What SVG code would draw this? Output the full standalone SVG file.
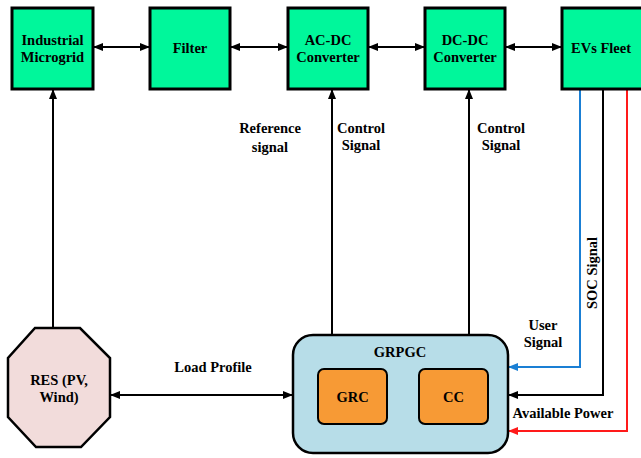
<svg xmlns="http://www.w3.org/2000/svg" width="641" height="458" viewBox="0 0 641 458">
<defs>
<marker id="ah" viewBox="0 0 10 8" refX="10" refY="4" markerWidth="10" markerHeight="8" markerUnits="userSpaceOnUse" orient="auto-start-reverse"><path d="M0,0 L10,4 L0,8 Z" fill="#000"/></marker>
<marker id="ahb" viewBox="0 0 10 8" refX="10" refY="4" markerWidth="10" markerHeight="8" markerUnits="userSpaceOnUse" orient="auto"><path d="M0,0 L10,4 L0,8 Z" fill="#1a7fd4"/></marker>
<marker id="ahr" viewBox="0 0 10 8" refX="10" refY="4" markerWidth="10" markerHeight="8" markerUnits="userSpaceOnUse" orient="auto"><path d="M0,0 L10,4 L0,8 Z" fill="#ff1a1a"/></marker>
<style>
.box{fill:#00f79b;stroke:#000;stroke-width:3}
.t{font-family:"Liberation Serif","Times New Roman",serif;font-weight:bold;font-size:14.5px;fill:#000;text-anchor:middle}
.c{fill:none;stroke:#000;stroke-width:2}
</style>
</defs>
<rect width="641" height="458" fill="#fff"/>
<g id="connectors">
<line class="c" x1="93" y1="47" x2="150" y2="47" marker-start="url(#ah)" marker-end="url(#ah)"/>
<line class="c" x1="230" y1="47" x2="288" y2="47" marker-start="url(#ah)" marker-end="url(#ah)"/>
<line class="c" x1="368" y1="47" x2="425" y2="47" marker-start="url(#ah)" marker-end="url(#ah)"/>
<line class="c" x1="505" y1="47" x2="562" y2="47" marker-start="url(#ah)" marker-end="url(#ah)"/>
<line class="c" x1="53" y1="328" x2="53" y2="89" marker-end="url(#ah)"/>
<line class="c" x1="332" y1="335" x2="332" y2="89" marker-end="url(#ah)"/>
<line class="c" x1="469" y1="335" x2="469" y2="89" marker-end="url(#ah)"/>
<line class="c" x1="110" y1="395" x2="293" y2="395" marker-start="url(#ah)" marker-end="url(#ah)"/>
<polyline fill="none" stroke="#1a7fd4" stroke-width="2" points="580,89 580,367 508,367" marker-end="url(#ahb)"/>
<polyline class="c" points="603,89 603,395 508,395" marker-end="url(#ah)"/>
<polyline fill="none" stroke="#ff1a1a" stroke-width="2" points="627,89 627,431 508,431" marker-end="url(#ahr)"/>
</g>
<g id="industrial-microgrid"><rect class="box" x="12" y="8" width="81" height="81"/><text class="t" x="52.5" y="45">Industrial</text><text class="t" x="52.5" y="62">Microgrid</text></g>
<g id="filter"><rect class="box" x="150" y="8" width="80" height="81"/><text class="t" x="190" y="53">Filter</text></g>
<g id="ac-dc"><rect class="box" x="288" y="8" width="80" height="81"/><text class="t" x="328" y="45">AC-DC</text><text class="t" x="328" y="62">Converter</text></g>
<g id="dc-dc"><rect class="box" x="425" y="8" width="80" height="81"/><text class="t" x="465" y="45">DC-DC</text><text class="t" x="465" y="62">Converter</text></g>
<g id="evs-fleet"><rect class="box" x="562" y="8" width="82" height="81"/><text class="t" x="601" y="53">EVs Fleet</text></g>
<g id="res"><polygon points="35,328 80,328 110,358 110,417 81,447 36,447 8,417 8,358" fill="#f2dcdb" stroke="#000" stroke-width="2.5"/><text class="t" x="59" y="385">RES (PV,</text><text class="t" x="59" y="402">Wind)</text></g>
<g id="grpgc"><rect x="293" y="335" width="215" height="118" rx="20" fill="#b7dde8" stroke="#000" stroke-width="2.5"/><text class="t" x="400" y="357">GRPGC</text>
<g id="grc"><rect x="318" y="369" width="69" height="55" rx="6" fill="#f79a35" stroke="#000" stroke-width="2"/><text class="t" x="352.5" y="402">GRC</text></g>
<g id="cc"><rect x="419" y="369" width="69" height="55" rx="6" fill="#f79a35" stroke="#000" stroke-width="2"/><text class="t" x="453.5" y="402">CC</text></g>
</g>
<g id="labels">
<text class="t" x="270" y="133">Reference</text><text class="t" x="270" y="152">signal</text>
<text class="t" x="361" y="133">Control</text><text class="t" x="361" y="150">Signal</text>
<text class="t" x="501" y="133">Control</text><text class="t" x="501" y="150">Signal</text>
<text class="t" transform="translate(597,273) rotate(-90)">SOC Signal</text>
<text class="t" x="543" y="330">User</text><text class="t" x="543" y="347">Signal</text>
<text class="t" x="563" y="418">Available Power</text>
<text class="t" x="213" y="372">Load Profile</text>
</g>
</svg>
